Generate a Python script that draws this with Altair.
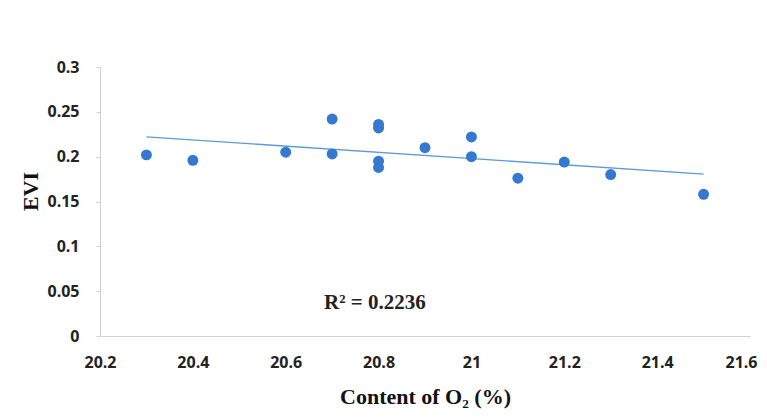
import altair as alt
import pandas as pd

o2 = [20.3, 20.4, 20.6, 20.7, 20.7, 20.8, 20.8, 20.8, 20.8, 20.9, 21.0, 21.0, 21.1, 21.2, 21.3, 21.5]
evi = [0.202, 0.196, 0.205, 0.242, 0.203, 0.236, 0.232, 0.195, 0.188, 0.210, 0.222, 0.200, 0.176, 0.194, 0.180, 0.158]
x_ticks = [20.2, 20.4, 20.6, 20.8, 21.0, 21.2, 21.4, 21.6]
y_ticks = [0, 0.05, 0.1, 0.15, 0.2, 0.25, 0.3]
r2_label = ["R² = 0.2236"]
r2_pos = [(20.792, 0.037)]

df = pd.DataFrame({"o2": o2, "evi": evi})
ann = pd.DataFrame({"x": [p[0] for p in r2_pos], "y": [p[1] for p in r2_pos], "t": r2_label})

xs = alt.Scale(domain=[20.2, 21.6], nice=False, zero=False)
ys = alt.Scale(domain=[0, 0.3], nice=False)

xax = alt.Axis(values=x_ticks, title="Content of O₂ (%)", grid=False, labelFlush=False,
               labelFont="Open Sans", labelFontWeight="bold", labelFontSize=16, labelColor="#222",
               titleFont="Liberation Serif", titleFontWeight="bold", titleFontSize=22, titleColor="#111",
               domainColor="#d0d0d0", ticks=False, labelPadding=18, titlePadding=16,
               labelOffset={"condition": {"test": "datum.value >= 21.59", "value": -9}, "value": 0},
               labelExpr="format(datum.value, '~g')")
yax = alt.Axis(values=y_ticks, title="EVI", grid=False, labelFlush=False,
               labelFont="Open Sans", labelFontWeight="bold", labelFontSize=16, labelColor="#222",
               titleFont="Liberation Serif", titleFontWeight="bold", titleFontSize=22, titleColor="#111",
               domainColor="#d0d0d0", tickColor="#d0d0d0", tickSize=4, labelPadding=17, titlePadding=4,
               titleY=124,
               labelExpr="format(datum.value, '~g')")

base = alt.Chart(df)
points = base.mark_circle(size=120, color="#3479cf", opacity=1).encode(
    x=alt.X("o2:Q", scale=xs, axis=xax),
    y=alt.Y("evi:Q", scale=ys, axis=yax),
)
trend = base.transform_regression("o2", "evi").mark_line(color="#5b9bd5", strokeWidth=1.3).encode(
    x=alt.X("o2:Q", scale=xs),
    y=alt.Y("evi:Q", scale=ys),
)
label = alt.Chart(ann).mark_text(font="Liberation Serif", fontSize=21, fontWeight=600, color="#222").encode(
    x=alt.X("x:Q", scale=xs),
    y=alt.Y("y:Q", scale=ys),
    text="t:N",
)

chart = (trend + points + label).properties(
    width=650, height=269,
    autosize=alt.AutoSizeParams(type="none"),
    padding={"left": 92, "top": 59, "right": 9, "bottom": 74},
).configure_view(stroke=None)

chart.save("out.html", embed_options={"renderer": "svg", "actions": False})
